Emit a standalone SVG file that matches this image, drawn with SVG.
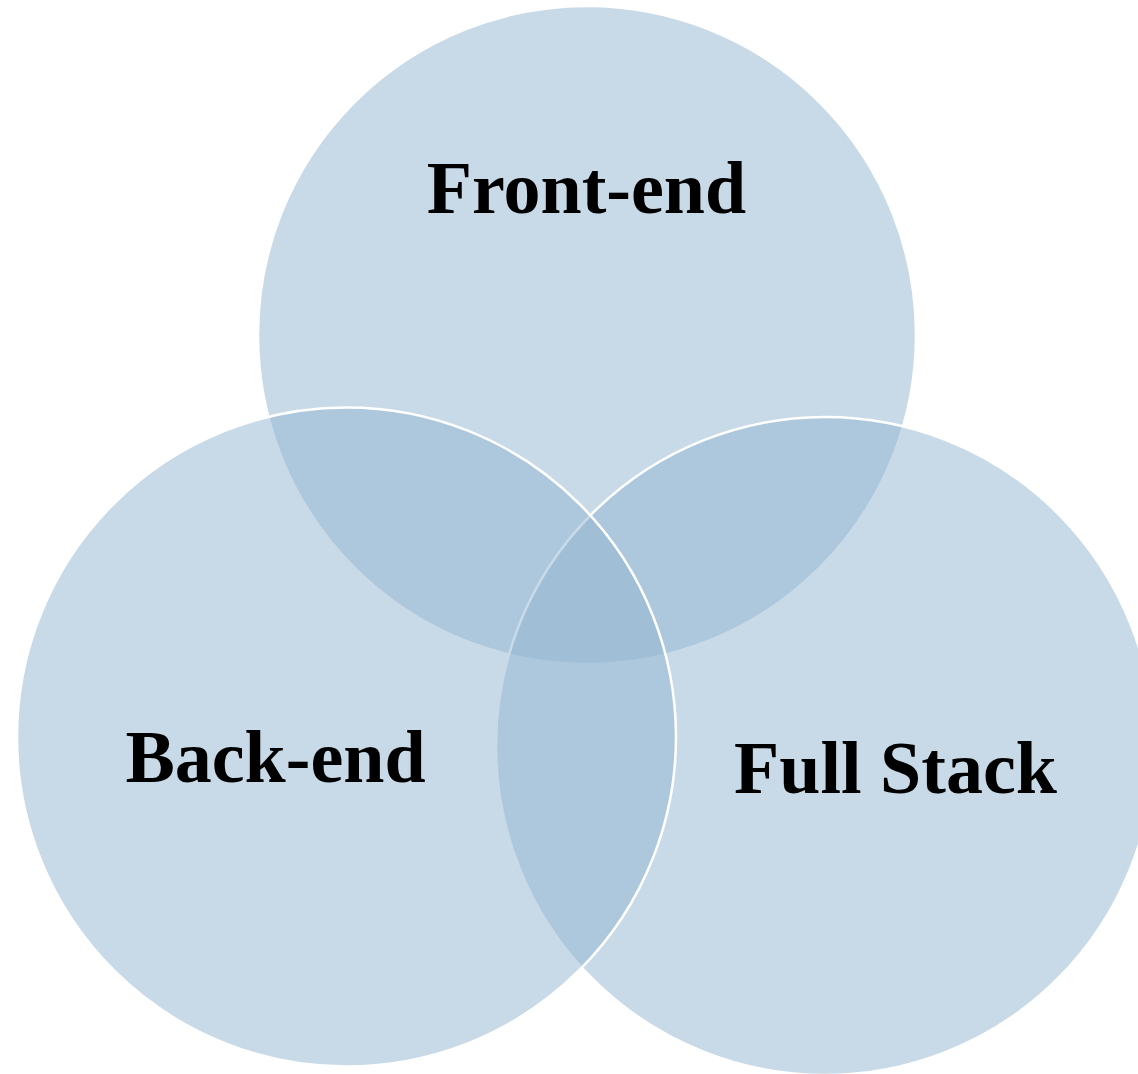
<svg xmlns="http://www.w3.org/2000/svg" width="1138" height="1074" viewBox="0 0 1138 1074">
  <style>
    .set { fill: #93b6d2; fill-opacity: 0.51; stroke: #ffffff; stroke-width: 2.5; }
    .label { font-family: "Liberation Serif", "Times New Roman", serif; font-weight: bold; font-size: 74px; fill: #000000; text-anchor: middle; }
  </style>
  <rect width="1138" height="1074" fill="#ffffff"/>
  <g id="front-end">
    <circle class="set" cx="587" cy="335" r="329"/>
  </g>
  <g id="full-stack">
    <circle class="set" cx="825" cy="746" r="329"/>
  </g>
  <g id="back-end">
    <circle class="set" cx="346.5" cy="737" r="329.5"/>
  </g>
  <g id="labels">
    <text class="label" x="586.5" y="213">Front-end</text>
    <text class="label" x="275.5" y="782">Back-end</text>
    <text class="label" x="895.5" y="793">Full Stack</text>
  </g>
</svg>
